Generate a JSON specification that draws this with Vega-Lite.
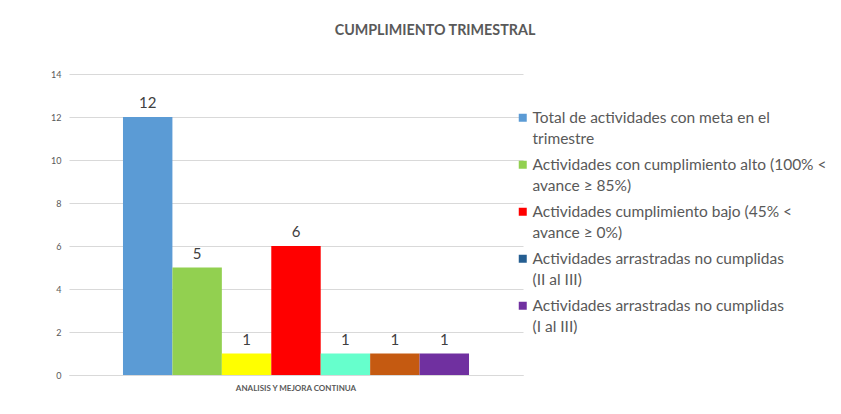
{
  "$schema": "https://vega.github.io/schema/vega-lite/v6.json",
  "autosize": {"type": "none"},
  "width": 454,
  "height": 301,
  "padding": {"left": 69, "top": 74, "right": 318, "bottom": 39},
  "background": "white",
  "title": {
    "text": "CUMPLIMIENTO TRIMESTRAL",
    "font": "Lato",
    "fontSize": 14.3,
    "fontWeight": "bold",
    "color": "#595959",
    "anchor": "middle",
    "frame": "group",
    "dx": 139,
    "offset": 32
  },
  "data": {
    "values": [
      {"grupo": "ANALISIS Y MEJORA CONTINUA", "serie": "Total de actividades con meta en el trimestre", "valor": 12},
      {"grupo": "ANALISIS Y MEJORA CONTINUA", "serie": "Actividades con cumplimiento alto (100% < avance ≥ 85%)", "valor": 5},
      {"grupo": "ANALISIS Y MEJORA CONTINUA", "serie": "Actividades con cumplimiento medio (85% < avance ≥ 45%)", "valor": 1},
      {"grupo": "ANALISIS Y MEJORA CONTINUA", "serie": "Actividades cumplimiento bajo (45% < avance ≥ 0%)", "valor": 6},
      {"grupo": "ANALISIS Y MEJORA CONTINUA", "serie": "Actividades arrastradas cumplidas (II al III)", "valor": 1},
      {"grupo": "ANALISIS Y MEJORA CONTINUA", "serie": "Actividades arrastradas cumplidas (I al III)", "valor": 1},
      {"grupo": "ANALISIS Y MEJORA CONTINUA", "serie": "Actividades arrastradas no cumplidas (I al III)", "valor": 1}
    ]
  },
  "encoding": {
    "x": {
      "field": "grupo",
      "type": "nominal",
      "title": null,
      "scale": {"paddingInner": 0, "paddingOuter": 0.156},
      "axis": {
        "labelAngle": 0,
        "labelFont": "Lato",
        "labelFontSize": 8,
        "labelFontWeight": "bold",
        "labelColor": "#595959",
        "labelPadding": 9,
        "ticks": false,
        "domainColor": "#D9D9D9",
        "domainWidth": 1
      }
    },
    "xOffset": {
      "field": "serie",
      "type": "nominal",
      "scale": {
        "domain": [
          "Total de actividades con meta en el trimestre",
          "Actividades con cumplimiento alto (100% < avance ≥ 85%)",
          "Actividades con cumplimiento medio (85% < avance ≥ 45%)",
          "Actividades cumplimiento bajo (45% < avance ≥ 0%)",
          "Actividades arrastradas cumplidas (II al III)",
          "Actividades arrastradas cumplidas (I al III)",
          "Actividades arrastradas no cumplidas (I al III)"
        ],
        "paddingInner": 0,
        "paddingOuter": 0
      }
    },
    "y": {
      "field": "valor",
      "type": "quantitative",
      "title": null,
      "scale": {"domain": [0, 14]},
      "axis": {
        "values": [0, 2, 4, 6, 8, 10, 12, 14],
        "labelFont": "Lato",
        "labelFontSize": 9,
        "labelColor": "#595959",
        "labelPadding": 8,
        "ticks": false,
        "domain": false,
        "gridColor": "#D9D9D9",
        "gridWidth": 1
      }
    }
  },
  "layer": [
    {
      "mark": {"type": "bar"},
      "encoding": {
        "color": {
          "field": "serie",
          "type": "nominal",
          "scale": {
            "domain": [
              "Total de actividades con meta en el trimestre",
              "Actividades con cumplimiento alto (100% < avance ≥ 85%)",
              "Actividades con cumplimiento medio (85% < avance ≥ 45%)",
              "Actividades cumplimiento bajo (45% < avance ≥ 0%)",
              "Actividades arrastradas cumplidas (II al III)",
              "Actividades arrastradas cumplidas (I al III)",
              "Actividades arrastradas no cumplidas (II al III)",
              "Actividades arrastradas no cumplidas (I al III)"
            ],
            "range": ["#5B9BD5", "#92D050", "#FFFF00", "#FF0000", "#66FFCC", "#C55A11", "#255E91", "#7030A0"]
          },
          "legend": {
            "values": [
              "Total de actividades con meta en el trimestre",
              "Actividades con cumplimiento alto (100% < avance ≥ 85%)",
              "Actividades cumplimiento bajo (45% < avance ≥ 0%)",
              "Actividades arrastradas no cumplidas (II al III)",
              "Actividades arrastradas no cumplidas (I al III)"
            ],
            "title": null,
            "orient": "none",
            "legendX": 446,
            "legendY": 36,
            "symbolType": "square",
            "symbolSize": 64,
            "symbolStrokeWidth": 0,
            "labelFont": "Lato",
            "labelFontSize": 15.5,
            "labelColor": "#595959",
            "labelLimit": 400,
            "labelOffset": 2,
            "rowPadding": 9,
            "labelExpr": "datum.label == 'Total de actividades con meta en el trimestre' ? ['Total de actividades con meta en el', 'trimestre'] : datum.label == 'Actividades con cumplimiento alto (100% < avance ≥ 85%)' ? ['Actividades con cumplimiento alto (100% <', 'avance ≥ 85%)'] : datum.label == 'Actividades cumplimiento bajo (45% < avance ≥ 0%)' ? ['Actividades cumplimiento bajo (45% <', 'avance ≥ 0%)'] : datum.label == 'Actividades arrastradas no cumplidas (II al III)' ? ['Actividades arrastradas no cumplidas', '(II al III)'] : ['Actividades arrastradas no cumplidas', '(I al III)']"
          }
        }
      }
    },
    {
      "mark": {"type": "text", "baseline": "bottom", "dy": -6, "font": "Lato", "fontSize": 15, "color": "#404040"},
      "encoding": {"text": {"field": "valor", "type": "quantitative"}}
    }
  ],
  "config": {
    "view": {"stroke": null},
    "style": {"guide-label": {"lineHeight": 21}}
  }
}
